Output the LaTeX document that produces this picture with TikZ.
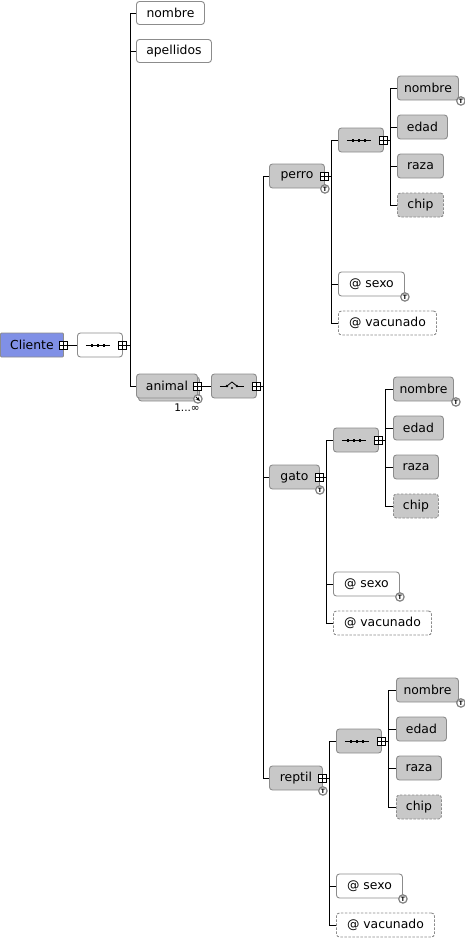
\documentclass[tikz,border=0pt]{standalone}
\usepackage{fontspec}
\setmainfont{DejaVu Sans}
\definecolor{boxgray}{RGB}{200,200,200}
\definecolor{edgegray}{RGB}{140,140,140}
\definecolor{rootblue}{RGB}{128,144,230}
\begin{document}
\begin{tikzpicture}[x=1pt,y=-1pt,
  every node/.style={font=\fontsize{12.4}{14}\selectfont},
  xbox/.style={draw=edgegray, rounded corners=3pt, anchor=west, minimum height=24pt,
    inner sep=0pt, line width=0.9pt},
  xelem/.style={xbox, fill=boxgray},
  xattr/.style={xbox, fill=white},
  xopt/.style={dash pattern=on 2.5pt off 1.5pt},
  wire/.style={black, line width=0.9pt},
  expander/.pic={
    \draw[black, line width=0.6pt, fill=white] (-4,-4) rectangle (4,4);
    \draw[black, line width=0.6pt] (-4,0) -- (4,0) (0,-4) -- (0,4);
  },
  typeicon/.pic={
    \draw[draw=gray, line width=1.2pt, fill=white] (0,0) circle (4.2pt);
    \node[inner sep=0pt, font=\fontsize{6}{6}\selectfont\bfseries] (tlabel) at (0,0) {T};
  },
  repicon/.pic={
    \draw[draw=gray, line width=1.2pt, fill=white] (0,0) circle (4.2pt);
    \draw[black, line width=0.8pt, -stealth] (-2,-2) -- (2,2);
  },
  seqsym/.pic={
    \draw[black, line width=0.8pt] (-12,0) -- (12,0);
    \foreach \d in {-6,0,6} \fill[black] (\d-1.3,-1.5) rectangle (\d+1.3,1.5);
  },
  choicesym/.pic={
    \draw[black, line width=0.8pt] (-12,0) -- (-5,0) (5,0) -- (12,0);
    \draw[black, line width=0.8pt] (-5,0) -- (0,-4) -- (5,0);
    \fill[black] (-5,0) circle (1.3pt) (5,0) circle (1.3pt) (0,2) circle (1.1pt);
  },
]
\useasboundingbox (0,0) rectangle (465,938);

% ---- root and its sequence ----
\node[xbox, fill=rootblue, rounded corners=1pt, minimum width=63pt] (cliente) at (0,345) {Cliente};
\node[xattr, minimum width=45pt] (seq0) at (77,345) {};
\pic at ([xshift=-2pt]seq0.center) {seqsym};

\node[xattr, minimum width=68pt, minimum height=23pt] (nombre0) at (136,13) {nombre};
\node[xattr, minimum width=75pt, minimum height=23pt] (apell) at (136,51) {apellidos};
\node[xelem, minimum width=61pt] (animalshadow) at (138,389) {};
\node[xelem, minimum width=61pt] (animal) at (136,386) {animal};
\node[xelem, minimum width=45pt] (choice) at (211,386) {};
\pic at ([xshift=-2pt]choice.center) {choicesym};
\node[inner sep=0pt, font=\fontsize{10.5}{12}\selectfont] (card) at (187,408) {1...∞};

% ---- perro ----
\node[xelem, minimum width=55pt] (perro) at (269,176) {perro};
\node[xelem, minimum width=45pt] (seqP) at (338,140) {};
\pic at ([xshift=-2pt]seqP.center) {seqsym};
\node[xelem, minimum width=61pt] (nP) at (397,88) {nombre};
\node[xelem, minimum width=50pt] (eP) at (397,127) {edad};
\node[xelem, minimum width=46pt] (rP) at (397,166) {raza};
\node[xelem, xopt, minimum width=46pt] (cP) at (397,205) {chip};
\node[xattr, minimum width=66pt] (sP) at (338,284) {@ sexo};
\node[xattr, xopt, minimum width=98pt] (vP) at (338,323) {@ vacunado};

% ---- gato ----
\node[xelem, minimum width=50pt] (gato) at (269,477) {gato};
\node[xelem, minimum width=45pt] (seqG) at (333,440) {};
\pic at ([xshift=-2pt]seqG.center) {seqsym};
\node[xelem, minimum width=60pt] (nG) at (393,389) {nombre};
\node[xelem, minimum width=50pt] (eG) at (393,428) {edad};
\node[xelem, minimum width=45pt] (rG) at (393,467) {raza};
\node[xelem, xopt, minimum width=45pt] (cG) at (393,506) {chip};
\node[xattr, minimum width=66pt] (sG) at (333,584) {@ sexo};
\node[xattr, xopt, minimum width=98pt] (vG) at (333,623) {@ vacunado};

% ---- reptil ----
\node[xelem, minimum width=53pt] (reptil) at (269,778) {reptil};
\node[xelem, minimum width=45pt] (seqR) at (336,741) {};
\pic at ([xshift=-2pt]seqR.center) {seqsym};
\node[xelem, minimum width=62pt] (nR) at (396,690) {nombre};
\node[xelem, minimum width=50pt] (eR) at (396,729) {edad};
\node[xelem, minimum width=45pt] (rR) at (396,768) {raza};
\node[xelem, xopt, minimum width=45pt] (cR) at (396,807) {chip};
\node[xattr, minimum width=66pt] (sR) at (336,886) {@ sexo};
\node[xattr, xopt, minimum width=98pt] (vR) at (336,925) {@ vacunado};

% ---- connectors ----
\draw[wire] (cliente.east) -- (seq0.west);
\foreach \c in {nombre0, apell, animal}
  \draw[wire] (seq0.east) -- ++(8,0) |- (\c.west);
\draw[wire] (animal.east) -- (choice.west);
\foreach \c in {perro, gato, reptil}
  \draw[wire] (choice.east) -- ++(7,0) |- (\c.west);
\foreach \p/\s/\a/\v in {perro/seqP/sP/vP, gato/seqG/sG/vG, reptil/seqR/sR/vR}
  \foreach \c in {\s, \a, \v}
    \draw[wire] (\p.east) -- ++(7,0) |- (\c.west);
\foreach \s/\n/\e/\r/\ch in {seqP/nP/eP/rP/cP, seqG/nG/eG/rG/cG, seqR/nR/eR/rR/cR}
  \foreach \c in {\n, \e, \r, \ch}
    \draw[wire] (\s.east) -- ++(7,0) |- (\c.west);

% ---- expand markers ----
\foreach \n in {cliente, seq0, animal, choice, perro, seqP, gato, seqG, reptil, seqR}
  \pic at ([xshift=-1pt]\n.east) {expander};

% ---- type and repetition markers ----
\foreach \n in {perro, gato, reptil, sP, sG, sR}
  \pic at ([xshift=0pt,yshift=-0.5pt]\n.south east) {typeicon};
\foreach \n in {nP, nG, nR}
  \pic at ([xshift=2pt,yshift=-0.5pt]\n.south east) {typeicon};
\pic at ([xshift=0pt,yshift=-0.5pt]animal.south east) {repicon};
\end{tikzpicture}
\end{document}
